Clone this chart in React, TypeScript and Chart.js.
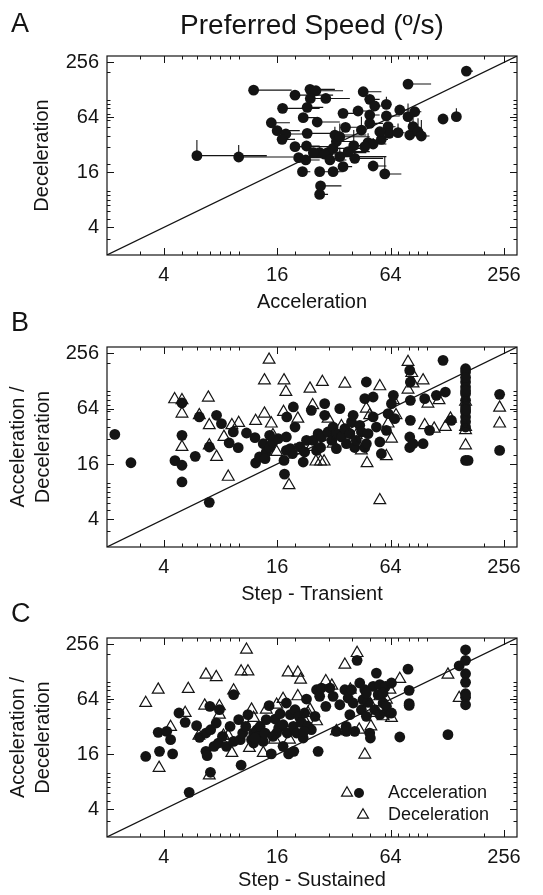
import React, { useEffect, useRef } from 'react';
import { Chart, registerables } from 'chart.js';

Chart.register(...registerables);

const FONT = '"Liberation Sans", Arial, Helvetica, sans-serif';
const INK = '#141414';

// ---------- shared axis definitions ----------
const AXIS_MIN = 2;
const AXIS_MAX = 300;
const TICK_VALUES = [4, 16, 64, 256];
const MINOR_TICK_VALUES = [3, 5, 6, 7, 8, 9, 10, 20, 30, 40, 50, 60, 70, 80, 90, 100, 200];
const IDENTITY_LINE = [AXIS_MIN, AXIS_MAX];

const TITLE = 'Preferred Speed (º/s)';
const PANEL_LETTERS = ['A', 'B', 'C'];
const LEGEND_LABELS = ['Acceleration', 'Deceleration'];

// ---------- Panel A: Acceleration vs Deceleration (with one-sided error bars) ----------
const accelA = [6.0, 10.0, 12.0, 19.9, 23.9, 25.7, 24.0, 29.0, 17.1, 23.1, 22.0, 26.1, 14.9, 16.0, 17.8, 17.0, 19.9, 23.1, 22.9, 20.8, 22.7, 21.8, 26.9, 26.9, 27.2, 26.9, 29.8, 31.7, 32.4, 33.0, 34.4, 35.8, 35.8, 36.9, 40.8, 41.3, 43.0, 45.8, 44.8, 49.6, 52.7, 49.6, 49.6, 48.6, 51.7, 51.7, 57.2, 59.6, 60.8, 60.8, 62.1, 62.9, 70.1, 71.6, 79.2, 79.2, 80.9, 86.0, 84.2, 89.5, 93.2, 121.5, 143, 161.6, 24.9, 28.6, 31.7, 34.4, 38.1, 30.5, 56.1, 46.7];
const decelA = [24.4, 23.6, 127, 112, 129.5, 125, 103, 103, 80.3, 82.3, 63.5, 56.9, 55.9, 45.8, 42.1, 36.8, 30.6, 42.8, 31.1, 23.2, 21.9, 16.3, 26.3, 16.3, 11.4, 9.2, 26.3, 16.3, 41.0, 34.8, 23.8, 18.5, 70.8, 49.8, 31.4, 22.8, 75.1, 122, 46.5, 100.7, 85.2, 67.9, 55.0, 33.9, 32.7, 18.8, 36.8, 15.4, 88.8, 66.2, 50.6, 42.8, 43.5, 77.0, 148, 65.1, 41.0, 73.8, 50.6, 44.6, 40.0, 61.4, 65.1, 205, 26.3, 25.4, 29.3, 39.3, 27.0, 21.9, 44.6, 30.6];
const accelAUpper = [14.1, 19.5, 19.1, 31.7, 32.4, 35.8, 27.5, 38.9, 26.9, 28.1, 25.9, 34.4, 18.7, 21.1, 23.9, 19.9, 31.7, 33.0, 26.9, 31.7, 26.9, 24.0, 33.0, 30.0, 35.1, 29.8, 47.6, 36.0, 47.6, 40.5, 60.8, 40.0, 43.0, 44.8, 53.8, 58.4, 48.0, 57.2, 44.8, 56.0, 58.0, 56.0, 58.4, 55.0, 60.8, 60.8, 62.0, 73.0, 60.8, 71.6, 68.0, 68.0, 76.0, 80.9, 105, 86.0, 88.0, 93.2, 90.0, 89.5, 103, 121.5, 143, 175, 43.9, 40.5, 45.8, 49.6, 49.6, 37.3, 56.1, 46.7];
const decelAUpper = [36.2, 31.9, 127, 112, 129.5, 125, 103, 103, 80.3, 82.3, 63.5, 56.9, 55.9, 45.8, 46, 44.6, 30.6, 42.8, 31.1, 23.2, 21.9, 16.3, 30, 16.3, 11.4, 9.2, 26.3, 16.3, 50.6, 34.8, 30, 18.5, 70.8, 49.8, 46.5, 30, 75.1, 122, 65.1, 100.7, 85.2, 67.9, 55.0, 42.8, 38, 18.8, 36.8, 23.8, 107.7, 66.2, 50.6, 42.8, 55.0, 77.0, 148, 91.0, 62.4, 73.8, 65.1, 62.4, 59.8, 61.4, 80.3, 205, 26.3, 25.4, 29.3, 55.0, 27.0, 21.9, 44.6, 30.6];

// ---------- Panel B: Step - Transient ----------
const transientAccelX = [2.2, 2.68, 4.59, 5.0, 5.0, 5.0, 5.0, 5.88, 6.18, 6.98, 6.98, 7.63, 8.1, 8.9, 9.36, 9.94, 11.0, 12.2, 12.3, 12.9, 13.5, 14.0, 14.6, 15.2, 16.2, 14.6, 13.8, 17.4, 17.5, 17.9, 17.9, 18.0, 19.5, 19.9, 18.8, 19.3, 21.1, 22.0, 22.9, 24.3, 24.9, 25.9, 26.4, 27.5, 28.6, 28.6, 29.8, 31.2, 31.7, 33.0, 34.4, 35.1, 36.6, 37.3, 38.9, 39.7, 40.5, 41.3, 42.1, 43.9, 44.8, 46.7, 47.6, 47.6, 46.7, 48.6, 51.7, 51.7, 53.8, 56.1, 57.2, 60.8, 62.1, 64.7, 66.2, 67.3, 80.9, 81.5, 81.5, 81.5, 80.9, 80.9, 84.2, 95.2, 97.1, 103, 112, 121.5, 125, 134.5, 160, 160, 160, 160, 160, 160, 160, 160, 160, 160, 160, 165, 242.6, 242.6, 22.4, 27.2, 33.0, 160, 160, 160, 160];
const accelB = [33.6, 16.5, 17.4, 15.5, 10.2, 32.8, 73.8, 19.4, 52.0, 6.12, 24.5, 54.2, 44.0, 27.1, 35.7, 24.1, 34.8, 31.0, 16.4, 19.1, 26.6, 21.6, 24.2, 27.8, 30.2, 32.8, 18.3, 17.5, 12.4, 31.5, 22.5, 52.0, 66.8, 40.4, 23.5, 20.7, 24.5, 16.8, 28.9, 61.4, 28.9, 22.5, 34.2, 31.5, 54.2, 72.6, 35.7, 28.9, 40.4, 34.2, 64, 31.5, 38.8, 26.6, 34.2, 45.8, 54.2, 24.2, 28.9, 42.2, 35.7, 24.2, 124.8, 26.6, 82.2, 34.2, 85.7, 52.0, 40.4, 27.8, 20.7, 37.2, 56.5, 72.6, 89.4, 49.8, 167, 124.8, 78.9, 47.8, 31.5, 24.2, 26.6, 26.6, 82.2, 37.2, 89.4, 214.8, 97.1, 47.8, 174, 160, 124.8, 110, 93.2, 78.9, 66.8, 58.9, 52.0, 40.4, 17.5, 17.5, 91.7, 22.5, 21.6, 24.2, 23.5, 140, 100, 62, 46];
const transientDecelX = [4.57, 5.0, 5.0, 5.0, 6.18, 6.9, 6.98, 6.98, 7.63, 8.35, 8.8, 9.2, 10.0, 12.3, 13.7, 13.7, 14.5, 14.9, 15.2, 15.9, 17.3, 17.4, 17.8, 18.5, 20.6, 23.9, 24.7, 25.7, 27.2, 28.4, 27.8, 29.8, 35.1, 36.6, 42.1, 44.8, 47.6, 48.0, 49.6, 56.1, 56.1, 60.8, 62.1, 64.7, 66.2, 79.2, 79.2, 82.9, 84.2, 95.2, 101, 97.1, 109, 115.7, 125, 133, 160, 160, 160, 160, 242.6, 242.6, 40.5, 68.4, 31.7, 24.3, 19.9];
const decelB = [80.8, 78.9, 56.5, 24.5, 54.2, 84.3, 42.2, 25.5, 19.1, 31.5, 11.6, 42.2, 44.7, 47.0, 56.5, 130, 218, 44.0, 32.8, 21.6, 58.9, 130, 97.1, 9.4, 49.8, 105.6, 69.6, 17.0, 17.0, 17.0, 124.8, 49.8, 41.1, 119.8, 32.8, 22.5, 64, 16.3, 54.2, 112, 6.44, 19.4, 44.0, 30.2, 78.9, 206, 103, 156, 120, 130, 72.6, 42.2, 38.8, 78.9, 40.4, 49.8, 75.9, 40.4, 25.5, 37.2, 65.6, 44.0, 28.9, 54.2, 26.6, 24.5, 22.5];

// ---------- Panel C: Step - Sustained ----------
const sustainedAccelX = [3.21, 3.74, 3.80, 4.15, 4.35, 4.46, 4.82, 5.2, 5.46, 5.98, 6.2, 6.7, 6.8, 7.03, 7.08, 6.7, 7.1, 7.4, 7.6, 7.8, 7.9, 8.2, 8.6, 9.0, 9.4, 10.0, 10.2, 10.3, 10.5, 10.9, 11.2, 11.7, 12.0, 12.5, 12.7, 13.0, 13.5, 14.0, 13.8, 14.5, 14.9, 15.6, 16.3, 16.6, 17.2, 17.9, 18.1, 18.4, 18.8, 19.5, 19.9, 20.3, 19.6, 20.9, 21.5, 22.0, 22.4, 22.9, 26.4, 25.9, 26.9, 27.5, 29.0, 30.5, 31.7, 33.0, 34.4, 36.6, 37.2, 38.1, 38.9, 39.7, 40.5, 41.3, 42.5, 43.9, 44.8, 45.7, 46.7, 47.6, 48.6, 49.6, 50.0, 51.7, 52.7, 53.8, 55.0, 56.1, 58.4, 60.2, 62.9, 64.7, 71.6, 79.2, 80.3, 80.3, 80.3, 129, 148, 160, 160, 160, 160, 160, 160, 160, 37.3, 47.6, 58.4, 56.1, 60.8, 64.7, 25.4, 24.3, 23.3, 22.2, 17.2, 15.9, 15.2, 12.0, 12.2, 9.4];
const accelC = [15.2, 27.9, 17.3, 28.6, 23.2, 16.2, 45.4, 35.9, 6.16, 33.0, 24.6, 17.3, 15.5, 53.7, 10.2, 27.4, 29.8, 19.6, 35.3, 21.3, 49.3, 25.2, 19.6, 32.4, 72.0, 38.4, 23.2, 12.2, 27.4, 32.4, 43.5, 23.2, 27.4, 29.8, 25.2, 32.4, 22.2, 38.4, 27.4, 54.6, 16.2, 39.0, 31.1, 44.6, 33.8, 58.4, 27.4, 16.2, 43.5, 32.4, 49.3, 27.4, 17.3, 41.7, 35.9, 24.2, 45.4, 64.5, 17.3, 81.6, 69.0, 85.1, 53.7, 85.1, 69.0, 28.6, 55.9, 81.6, 32.4, 66.2, 43.5, 81.6, 58.4, 28.6, 170.8, 96.6, 49.3, 63.5, 81.6, 41.7, 59.3, 27.4, 24.2, 88.8, 49.3, 124, 72.0, 92.6, 58.4, 88.8, 45.4, 96.6, 24.8, 137, 80.3, 57.4, 55, 26.3, 149, 223, 170.8, 122, 98.2, 73.8, 67.6, 55.9, 28.6, 75.1, 75.1, 43.5, 53.7, 45.4, 41.7, 29.8, 32.4, 28.6, 19.6, 27.4, 25.2, 21.3, 24.2, 22.2];
const sustainedDecelX = [3.21, 3.74, 3.78, 4.35, 5.2, 5.4, 6.15, 6.6, 6.7, 6.98, 7.6, 7.9, 7.9, 8.3, 8.8, 9.2, 9.4, 10.3, 11.0, 11.2, 11.4, 11.7, 12.0, 13.5, 14.0, 15.9, 17.2, 18.3, 20.6, 21.3, 20.6, 22.0, 23.3, 25.9, 29.0, 31.2, 33.0, 36.6, 42.5, 43.6, 46.7, 50.3, 53.8, 58.4, 63.5, 64.7, 71.6, 129, 148, 39.1, 49.6, 56.1, 60.8, 36.6, 15.5, 18.6, 23.9];
const decelC = [58.4, 81.6, 11.4, 31.9, 45.4, 83.0, 25.6, 54.6, 119, 9.4, 112, 43.5, 53.7, 25.6, 25.6, 16.6, 80, 129, 223, 129, 18.8, 49.3, 40.0, 16.6, 49.3, 55.9, 64.5, 126, 125, 105, 69.0, 40.0, 45.4, 36.8, 100.7, 90.3, 28.6, 153, 205, 29.8, 15.9, 32.4, 45.4, 41.7, 81.6, 40.0, 106.8, 119, 66.2, 81.6, 58.4, 69.0, 63.5, 29.8, 23.2, 23.2, 49.3];

// ---------- helpers ----------
const toPoints = (xs: number[], ys: number[]) => xs.map((x, i) => ({ x, y: ys[i] }));

const circleSet = (xs: number[], ys: number[]) => ({
  type: 'scatter' as const,
  data: toPoints(xs, ys),
  pointStyle: 'circle',
  pointRadius: 5.4,
  pointBackgroundColor: INK,
  pointBorderColor: INK,
  pointBorderWidth: 0,
  order: 2,
});

const triangleSet = (xs: number[], ys: number[]) => ({
  type: 'scatter' as const,
  data: toPoints(xs, ys),
  pointStyle: 'triangle',
  pointRadius: 6.8,
  pointBackgroundColor: 'rgba(255,255,255,0)',
  pointBorderColor: INK,
  pointBorderWidth: 1.2,
  order: 1,
});

const identitySet = () => ({
  type: 'line' as const,
  data: toPoints(IDENTITY_LINE, IDENTITY_LINE),
  borderColor: INK,
  borderWidth: 1.2,
  pointRadius: 0,
  fill: false,
  order: 3,
});

const framePlugin = {
  id: 'frameTicks',
  afterDatasetsDraw(chart: any) {
    const { ctx, chartArea, scales } = chart;
    const { left, right, top, bottom } = chartArea;
    ctx.save();
    ctx.strokeStyle = INK;
    ctx.lineWidth = 1.2;
    ctx.strokeRect(left, top, right - left, bottom - top);
    ctx.lineWidth = 1;
    const drawTicks = (vals: number[], len: number) => {
      ctx.beginPath();
      for (const v of vals) {
        const px = Math.round(scales.x.getPixelForValue(v)) + 0.5;
        ctx.moveTo(px, bottom); ctx.lineTo(px, bottom - len);
        ctx.moveTo(px, top); ctx.lineTo(px, top + len);
        const py = Math.round(scales.y.getPixelForValue(v)) + 0.5;
        ctx.moveTo(left, py); ctx.lineTo(left + len, py);
        ctx.moveTo(right, py); ctx.lineTo(right - len, py);
      }
      ctx.stroke();
    };
    drawTicks(TICK_VALUES, 7);
    drawTicks(MINOR_TICK_VALUES, 3.5);
    ctx.restore();
  },
};

const errorBarPlugin = {
  id: 'errorBars',
  beforeDatasetsDraw(chart: any) {
    const { ctx, chartArea, scales } = chart;
    ctx.save();
    ctx.beginPath();
    ctx.rect(chartArea.left, chartArea.top, chartArea.right - chartArea.left, chartArea.bottom - chartArea.top);
    ctx.clip();
    ctx.strokeStyle = INK;
    ctx.lineWidth = 1.1;
    ctx.beginPath();
    accelA.forEach((ax, i) => {
      const px = scales.x.getPixelForValue(ax);
      const py = scales.y.getPixelForValue(decelA[i]);
      const pxHi = scales.x.getPixelForValue(accelAUpper[i]);
      const pyHi = scales.y.getPixelForValue(decelAUpper[i]);
      if (pxHi - px > 0.5) { ctx.moveTo(px, py); ctx.lineTo(pxHi, py); }
      if (py - pyHi > 0.5) { ctx.moveTo(px, py); ctx.lineTo(px, pyHi); }
    });
    ctx.stroke();
    ctx.restore();
  },
};

const drawTriangle = (ctx: CanvasRenderingContext2D, x: number, y: number, r: number) => {
  ctx.beginPath();
  ctx.moveTo(x, y - r);
  ctx.lineTo(x + 0.866 * r, y + 0.5 * r);
  ctx.lineTo(x - 0.866 * r, y + 0.5 * r);
  ctx.closePath();
  ctx.stroke();
};

const makeTextPlugin = (letter: string, letterY: number, withTitle: boolean, withLegend: boolean) => ({
  id: 'panelText',
  afterDraw(chart: any) {
    const { ctx, chartArea } = chart;
    ctx.save();
    ctx.fillStyle = INK;
    ctx.textBaseline = 'middle';
    ctx.textAlign = 'left';
    ctx.font = `27px ${FONT}`;
    ctx.fillText(letter, 11, letterY);
    if (withTitle) {
      ctx.textAlign = 'center';
      ctx.font = `28px ${FONT}`;
      ctx.fillText(TITLE, (chartArea.left + chartArea.right) / 2, 26);
    }
    if (withLegend) {
      const y1 = chartArea.bottom - 44;
      const y2 = chartArea.bottom - 22;
      ctx.strokeStyle = INK;
      ctx.lineWidth = 1.2;
      drawTriangle(ctx, chartArea.right - 170, y1, 6.3);
      ctx.beginPath();
      ctx.arc(chartArea.right - 158, y1, 5, 0, Math.PI * 2);
      ctx.fill();
      drawTriangle(ctx, chartArea.right - 154, y2, 6.3);
      ctx.textAlign = 'left';
      ctx.font = `18px ${FONT}`;
      ctx.fillText(LEGEND_LABELS[0], chartArea.right - 129, y1);
      ctx.fillText(LEGEND_LABELS[1], chartArea.right - 129, y2);
    }
    ctx.restore();
  },
});

type PanelCfg = {
  datasets: any[];
  padTop: number;
  xScaleHeight: number;
  xTitle: string;
  xTitlePadBottom: number;
  yTitle: string | string[];
  yTitlePadTop: number;
  plugins: any[];
};

const logAxis = (isX: boolean, title: string | string[], titlePad: any, fit: number) => ({
  type: 'logarithmic' as const,
  min: AXIS_MIN,
  max: AXIS_MAX,
  afterBuildTicks: (s: any) => { s.ticks = TICK_VALUES.map((v) => ({ value: v })); },
  afterFit: (s: any) => { if (isX) s.height = fit; else s.width = fit; },
  ticks: {
    callback: (v: any) => String(v),
    color: INK,
    font: { family: FONT, size: 20 },
    padding: 8,
    autoSkip: false,
    maxRotation: 0,
    minRotation: 0,
  },
  grid: { display: false, drawTicks: false },
  border: { display: false },
  title: {
    display: true,
    text: title,
    color: INK,
    font: { family: FONT, size: 20, lineHeight: isX ? 1 : 1.25 },
    padding: titlePad,
  },
});

function buildChart(canvas: HTMLCanvasElement, cfg: PanelCfg) {
  return new Chart(canvas, {
    type: 'scatter',
    data: { datasets: [...cfg.datasets, identitySet()] as any },
    options: {
      animation: false,
      responsive: false,
      maintainAspectRatio: false,
      events: [],
      layout: { padding: { top: cfg.padTop, right: 26, bottom: 0, left: 0 } },
      plugins: { legend: { display: false }, tooltip: { enabled: false }, title: { display: false } },
      scales: {
        x: logAxis(true, cfg.xTitle, { top: 0, bottom: cfg.xTitlePadBottom }, cfg.xScaleHeight) as any,
        y: logAxis(false, cfg.yTitle, { top: cfg.yTitlePadTop, bottom: 0 }, 107) as any,
      },
    },
    plugins: cfg.plugins,
  });
}

function Panel({ top, height, cfg }: { top: number; height: number; cfg: PanelCfg }) {
  const ref = useRef<HTMLCanvasElement>(null);
  useEffect(() => {
    const chart = buildChart(ref.current as HTMLCanvasElement, cfg);
    return () => chart.destroy();
  }, []);
  return (
    <canvas
      ref={ref}
      width={543}
      height={height}
      style={{ position: 'absolute', left: 0, top, width: 543, height }}
    />
  );
}

const panelA: PanelCfg = {
  datasets: [circleSet(accelA, decelA)],
  padTop: 56,
  xScaleHeight: 61,
  xTitle: 'Acceleration',
  xTitlePadBottom: 3.5,
  yTitle: 'Deceleration',
  yTitlePadTop: 29.5,
  plugins: [errorBarPlugin, framePlugin, makeTextPlugin(PANEL_LETTERS[0], 25, true, false)],
};

const panelB: PanelCfg = {
  datasets: [circleSet(transientAccelX, accelB), triangleSet(transientDecelX, decelB)],
  padTop: 41,
  xScaleHeight: 59,
  xTitle: 'Step - Transient',
  xTitlePadBottom: 2,
  yTitle: ['Acceleration /', 'Deceleration'],
  yTitlePadTop: 5.5,
  plugins: [framePlugin, makeTextPlugin(PANEL_LETTERS[1], 18, false, false)],
};

const panelC: PanelCfg = {
  datasets: [circleSet(sustainedAccelX, accelC), triangleSet(sustainedDecelX, decelC)],
  padTop: 40,
  xScaleHeight: 58,
  xTitle: 'Step - Sustained',
  xTitlePadBottom: 5,
  yTitle: ['Acceleration /', 'Deceleration'],
  yTitlePadTop: 5.5,
  plugins: [framePlugin, makeTextPlugin(PANEL_LETTERS[2], 17, false, true)],
};

export default function App() {
  return (
    <div style={{ position: 'absolute', left: 0, top: 0, width: 543, height: 895, background: '#fff', overflow: 'hidden' }}>
      <Panel top={0} height={316} cfg={panelA} />
      <Panel top={306} height={300} cfg={panelB} />
      <Panel top={598} height={297} cfg={panelC} />
    </div>
  );
}
